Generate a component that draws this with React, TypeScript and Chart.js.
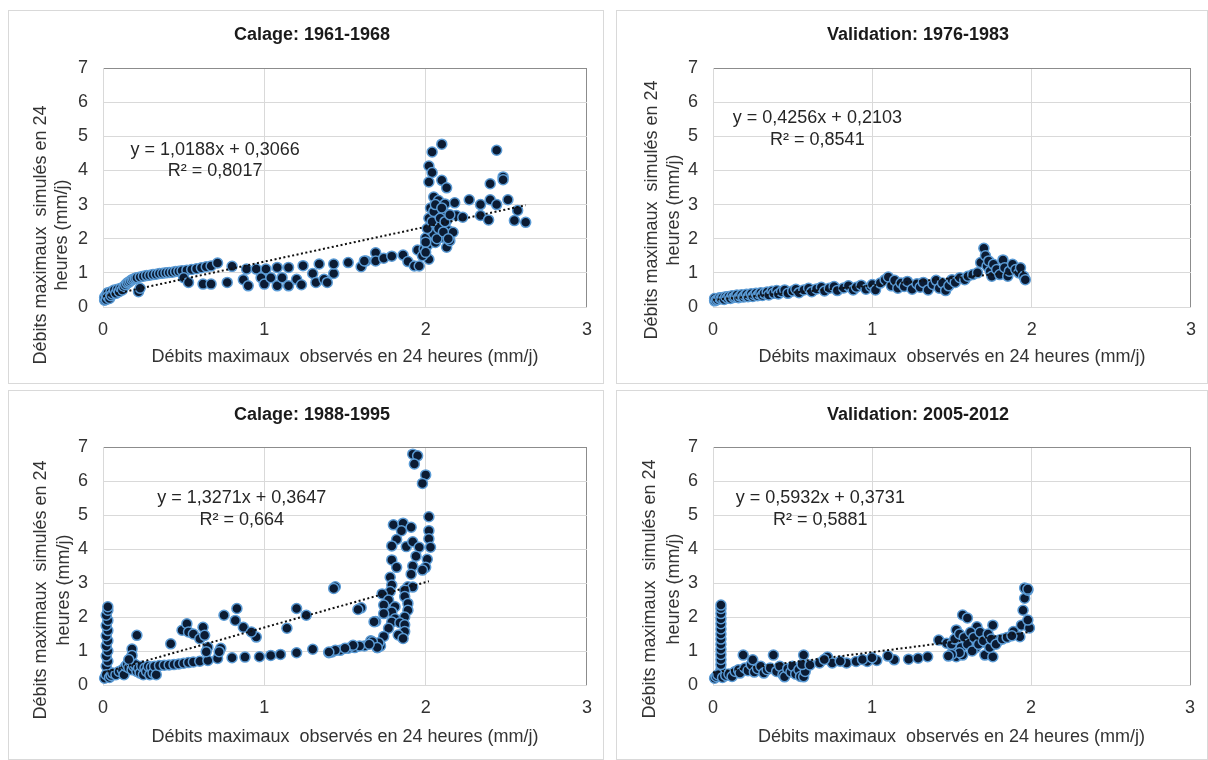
import React, { useEffect, useRef } from 'react';
import { Chart, registerables } from 'chart.js';

Chart.register(...registerables);

const FONT = '"Liberation Sans", Arial, sans-serif';

// ---------- Data: Calage 1961-1968 ----------
const cal6168X = [
  0.01, 0.01, 0.02, 0.02, 0.03, 0.03, 0.04, 0.05, 0.05, 0.06, 0.07, 0.08, 0.09, 0.1, 0.11, 0.12, 0.13, 0.14, 0.15, 0.16,
  0.17, 0.18, 0.19, 0.2, 0.21, 0.22, 0.23, 0.23, 0.25, 0.27, 0.29, 0.31, 0.33, 0.35, 0.37, 0.39, 0.41, 0.43, 0.45, 0.47,
  0.49, 0.52, 0.55, 0.58, 0.61, 0.64, 0.67, 0.71,
  0.8, 0.5, 0.53, 0.62, 0.67, 0.77, 0.87, 0.9, 0.89, 0.95, 0.98, 1.0, 1.01, 1.04, 1.08, 1.08, 1.11, 1.15, 1.15, 1.2,
  1.24, 1.23, 1.3, 1.32, 1.34, 1.37, 1.39, 1.43, 1.43, 1.52, 1.6, 1.63, 1.69, 1.69, 1.74, 1.79, 1.86, 1.89, 1.93, 1.96,
  1.95, 1.99, 2.01, 2.0, 2.02, 2.03, 2.04, 2.02, 2.04, 2.02, 2.1, 2.1, 2.13, 2.05, 2.08, 2.12, 2.06, 2.11, 2.07, 2.13,
  2.05, 2.1, 2.14, 2.06, 2.13, 2.15, 2.17, 2.18, 2.19, 2.23, 2.27, 2.34, 2.34, 2.4, 2.4, 2.39, 2.44, 2.44, 2.48, 2.48,
  2.51, 2.55, 2.57, 2.62,
  2.0, 2.01, 2.02, 2.03, 2.04, 2.05, 2.06, 2.07, 2.08, 2.09, 2.1, 2.11, 2.12, 2.14, 2.15, 1.98, 2.0, 1.62,
];
const cal6168Y = [
  0.2, 0.28, 0.35, 0.22, 0.42, 0.3, 0.25, 0.45, 0.33, 0.38, 0.5, 0.4, 0.52, 0.45, 0.55, 0.5, 0.6, 0.65, 0.7, 0.73,
  0.76, 0.8, 0.82, 0.84, 0.86, 0.45, 0.55, 0.88, 0.9, 0.92, 0.93, 0.95, 0.96, 0.98, 0.99, 1.0, 1.01, 1.02, 1.04, 1.05,
  1.06, 1.08, 1.1, 1.12, 1.15, 1.18, 1.2, 1.29,
  1.19, 0.86, 0.72, 0.67, 0.67, 0.72, 0.8, 0.62, 1.11, 1.11, 0.86, 0.67, 1.11, 0.86, 1.16, 0.62, 0.86, 1.16, 0.62, 0.81,
  1.21, 0.65, 0.98, 0.72, 1.26, 0.81, 0.72, 0.98, 1.26, 1.3, 1.18, 1.35, 1.59, 1.35, 1.43, 1.49, 1.52, 1.33, 1.2, 1.2,
  1.67, 1.7, 1.8, 2.02, 1.4, 2.24, 4.54, 4.13, 3.94, 3.66, 4.77, 3.71, 3.49, 3.22, 3.12, 3.02, 2.73, 2.78, 2.48, 2.53,
  2.14, 2.04, 2.24, 1.89, 1.75, 1.94, 2.19, 3.05, 2.68, 2.63, 3.14, 3.0, 2.68, 3.61, 3.14, 2.55, 3.0, 4.59, 3.81, 3.73,
  3.14, 2.53, 2.83, 2.48,
  1.9, 2.3, 2.6, 2.9, 2.5, 2.8, 3.0, 2.0, 2.3, 2.6, 2.9, 2.2, 2.5, 2.0, 2.7, 1.5, 1.6, 1.35,
];
const trend6168X = [0.0, 2.62];
const trend6168Y = [0.31, 2.98];

// ---------- Data: Validation 1976-1983 ----------
const val7683X = [
  0.01, 0.01, 0.02, 0.03, 0.04, 0.05, 0.06, 0.07, 0.08, 0.09, 0.1, 0.11, 0.12, 0.13, 0.14, 0.15, 0.16, 0.17, 0.18, 0.19,
  0.2, 0.21, 0.22, 0.23, 0.24, 0.25, 0.26, 0.27, 0.28, 0.29, 0.3, 0.31, 0.32, 0.34, 0.35, 0.37, 0.38, 0.4, 0.41, 0.43,
  0.45, 0.47, 0.5, 0.52, 0.54, 0.57, 0.6, 0.62, 0.65, 0.68, 0.7, 0.73, 0.76, 0.78, 0.82, 0.85, 0.88, 0.9, 0.93, 0.96,
  0.99, 1.0, 1.02, 1.05, 1.08, 1.1, 1.12, 1.14, 1.16, 1.18, 1.2, 1.22, 1.25, 1.28, 1.3, 1.32, 1.35, 1.38, 1.4, 1.42,
  1.44, 1.46, 1.48, 1.5, 1.52, 1.55, 1.58, 1.6, 1.63, 1.66, 1.68, 1.7, 1.71, 1.72, 1.73, 1.74, 1.75, 1.76, 1.78, 1.8,
  1.82, 1.83, 1.85, 1.86, 1.88, 1.9, 1.92, 1.93, 1.95, 1.96,
];
const val7683Y = [
  0.18, 0.25, 0.2, 0.22, 0.27, 0.24, 0.28, 0.22, 0.3, 0.26, 0.31, 0.25, 0.33, 0.28, 0.3, 0.35, 0.27, 0.32, 0.36, 0.29,
  0.34, 0.37, 0.3, 0.35, 0.39, 0.31, 0.36, 0.4, 0.33, 0.38, 0.42, 0.34, 0.4, 0.44, 0.35, 0.46, 0.4, 0.48, 0.38, 0.45,
  0.5, 0.4, 0.47, 0.52, 0.42, 0.5, 0.55, 0.45, 0.53, 0.58, 0.47, 0.55, 0.6, 0.48, 0.56, 0.62, 0.5, 0.58, 0.64, 0.52,
  0.6, 0.66, 0.5, 0.7, 0.8, 0.88, 0.62, 0.78, 0.55, 0.7, 0.6, 0.75, 0.52, 0.68, 0.58, 0.72, 0.5, 0.66, 0.78, 0.55,
  0.7, 0.48, 0.62, 0.8, 0.72, 0.86, 0.8, 0.9, 0.95, 1.0, 1.3, 1.72, 1.5, 1.2, 1.35, 1.05, 0.9, 1.25, 1.1, 0.95,
  1.38, 1.15, 0.9, 1.05, 1.25, 1.1, 1.0, 1.15, 0.9, 0.8,
];
const trend7683X = [0.0, 1.96];
const trend7683Y = [0.21, 1.04];

// ---------- Data: Calage 1988-1995 ----------
const cal8895X = [
  0.02, 0.03, 0.02, 0.03, 0.02, 0.03, 0.02, 0.03, 0.02, 0.03, 0.02, 0.03, 0.02, 0.03, 0.03,
  0.01, 0.02, 0.04, 0.05, 0.06, 0.08, 0.1, 0.12, 0.13, 0.14, 0.15, 0.16, 0.17, 0.18, 0.19, 0.2, 0.21, 0.22, 0.23, 0.24,
  0.25, 0.26, 0.27, 0.28, 0.29, 0.3, 0.31, 0.32, 0.33, 0.18, 0.18, 0.21, 0.16,
  0.35, 0.38, 0.41, 0.44, 0.47, 0.5, 0.53, 0.56, 0.6, 0.65, 0.71, 0.8, 0.88, 0.97, 1.04, 1.1, 1.2, 1.3, 1.4, 1.42,
  1.47, 1.52, 1.56, 1.62, 1.66, 1.7, 1.72,
  0.42, 0.49, 0.52, 0.53, 0.56, 0.6, 0.62, 0.63, 0.65, 0.64, 0.73, 0.72, 0.75, 0.83, 0.82, 0.87, 0.95, 0.92, 1.14, 1.2,
  1.26, 1.44, 1.6, 1.69,
  1.92, 1.95, 1.93, 2.0, 1.98, 2.02, 2.02, 2.02, 2.03, 2.01, 2.0, 1.98, 1.8, 1.86, 1.91, 1.85, 1.82, 1.79, 1.88, 1.92,
  1.96, 1.94, 1.79, 1.82, 1.92, 1.91, 1.78, 1.79, 1.89, 1.92, 1.87, 1.78, 1.73, 1.77, 1.87, 1.89, 1.74, 1.81, 1.89, 1.79,
  1.74, 1.87, 1.81, 1.79, 1.84, 1.87, 1.87, 1.83, 1.86, 1.77, 1.74, 1.71, 1.68, 1.67, 1.58, 1.43, 1.7, 1.65, 1.59, 1.55,
  1.5, 1.44, 1.4,
];
const cal8895Y = [
  0.25, 0.4, 0.55, 0.7, 0.85, 1.0, 1.15, 1.3, 1.45, 1.6, 1.75, 1.9, 2.05, 2.2, 2.3,
  0.2, 0.3, 0.22, 0.28, 0.35, 0.3, 0.4, 0.45, 0.3, 0.55, 0.6, 0.5, 0.65, 0.45, 0.55, 0.6, 0.4, 0.5, 0.35, 0.55,
  0.3, 0.5, 0.4, 0.55, 0.3, 0.52, 0.35, 0.55, 0.3, 1.06, 0.87, 1.46, 0.75,
  0.57, 0.58, 0.59, 0.6, 0.62, 0.64, 0.66, 0.68, 0.7, 0.72, 0.78, 0.8, 0.82, 0.83, 0.87, 0.9, 0.95, 1.05, 0.95, 0.97,
  1.02, 1.08, 1.1, 1.15, 1.3, 1.1, 1.15,
  1.21, 1.61, 1.8, 1.56, 1.5, 1.36, 1.7, 1.46, 1.11, 0.98, 1.08, 0.98, 2.05, 2.25, 1.9, 1.7, 1.41, 1.56, 1.67, 2.25,
  2.05, 2.89, 2.27, 1.87,
  6.79, 6.74, 6.5, 6.18, 5.93, 4.95, 4.54, 4.3, 4.05, 3.7, 3.46, 3.38, 4.71, 4.76, 4.64, 4.54, 4.28, 4.09, 4.07, 4.21,
  4.05, 3.79, 3.68, 3.46, 3.5, 3.26, 3.17, 2.94, 2.89, 2.88, 2.79, 2.75, 2.68, 2.5, 2.6, 2.4, 2.35, 2.3, 2.2, 2.15,
  2.1, 2.0, 1.95, 1.85, 1.83, 1.77, 1.57, 1.47, 1.37, 1.67, 1.43, 1.24, 1.86, 1.27, 2.22, 2.84, 1.1, 1.2, 1.15, 1.17,
  1.08, 1.02, 0.97,
];
const trend8895X = [0.0, 2.02];
const trend8895Y = [0.36, 3.05];

// ---------- Data: Validation 2005-2012 ----------
const val0512X = [
  0.05, 0.05, 0.05, 0.05, 0.05, 0.05, 0.05, 0.05, 0.05, 0.05, 0.05, 0.05, 0.05, 0.05, 0.05,
  0.01, 0.02, 0.03, 0.06, 0.08, 0.1, 0.12, 0.14, 0.16, 0.17, 0.19, 0.2, 0.22, 0.24, 0.25, 0.26, 0.28, 0.3, 0.32, 0.34,
  0.36, 0.38, 0.4, 0.42, 0.44, 0.45, 0.47, 0.49, 0.5, 0.52, 0.54, 0.55, 0.57, 0.57, 0.58, 0.56,
  0.61, 0.67, 0.72, 0.75, 0.84, 0.9, 0.97, 1.03, 1.14, 1.23, 1.29, 1.35, 1.42, 1.47, 0.7, 0.8, 0.94, 1.0, 1.1,
  1.57, 1.6, 1.53, 1.51, 1.53, 1.57, 1.62, 1.66, 1.69, 1.72, 1.76, 1.71, 1.76, 1.65, 1.8, 1.89, 1.93, 1.94, 1.95, 1.96,
  1.98, 1.99, 1.98, 1.96, 1.98, 1.5, 1.52, 1.55, 1.56, 1.58, 1.6, 1.62, 1.63, 1.64, 1.67, 1.68, 1.7, 1.73, 1.74, 1.75,
  1.78, 1.82, 1.85, 1.88, 1.55, 1.5, 1.48,
];
const val0512Y = [
  0.3, 0.45, 0.6, 0.75, 0.9, 1.05, 1.2, 1.35, 1.5, 1.65, 1.8, 1.95, 2.1, 2.25, 2.35,
  0.2, 0.25, 0.3, 0.22, 0.28, 0.32, 0.25, 0.4, 0.45, 0.35, 0.88, 0.5, 0.42, 0.6, 0.74, 0.38, 0.48, 0.55, 0.35, 0.45,
  0.5, 0.88, 0.4, 0.55, 0.3, 0.24, 0.48, 0.38, 0.55, 0.32, 0.45, 0.25, 0.24, 0.88, 0.4, 0.6,
  0.59, 0.65, 0.82, 0.65, 0.65, 0.69, 0.69, 0.72, 0.74, 0.76, 0.79, 0.83, 1.32, 1.23, 0.75, 0.7, 0.75, 0.8, 0.85,
  2.06, 1.97, 1.62, 1.03, 0.83, 0.88, 1.32, 1.71, 1.47, 1.23, 1.76, 0.88, 0.83, 1.09, 1.32, 1.57, 1.42, 1.76, 2.2, 2.55,
  2.79, 1.68, 1.91, 2.85, 2.82, 1.2, 1.35, 1.5, 1.1, 1.4, 1.2, 1.55, 1.0, 1.4, 1.2, 1.55, 1.3, 1.5, 1.1, 1.35,
  1.2, 1.35, 1.4, 1.45, 0.95, 0.9, 0.85,
];
const trend0512X = [0.0, 1.98];
const trend0512Y = [0.37, 1.55];

// ---------- Text ----------
const panelTitles = ['Calage: 1961-1968', 'Validation: 1976-1983', 'Calage: 1988-1995', 'Validation: 2005-2012'];
const equationLabels = ['y = 1,0188x + 0,3066', 'y = 0,4256x + 0,2103', 'y = 1,3271x + 0,3647', 'y = 0,5932x + 0,3731'];
const r2Labels = ['R² = 0,8017', 'R² = 0,8541', 'R² = 0,664', 'R² = 0,5881'];
const xAxisTitle = 'Débits maximaux  observés en 24 heures (mm/j)';
const yAxisTitle = ['Débits maximaux  simulés en 24', 'heures (mm/j)'];
const xTickMin = 0;
const xTickMax = 3;
const yTickMin = 0;
const yTickMax = 7;

const seriesX = [cal6168X, val7683X, cal8895X, val0512X];
const seriesY = [cal6168Y, val7683Y, cal8895Y, val0512Y];
const trendX = [trend6168X, trend7683X, trend8895X, trend0512X];
const trendY = [trend6168Y, trend7683Y, trend8895Y, trend0512Y];

// ---------- Layout (styling only) ----------
const panels = [
  { left: 8, top: 10, w: 596, h: 374, padTop: 58, padRight: 9, yW: 95, xH: 77, yT: [33, 54], yTY: 225, titleY: 25, xTitlePad: 16, eq: [0.695, 4.6, 3.98] },
  { left: 616, top: 10, w: 592, h: 374, padTop: 58, padRight: 16, yW: 97, xH: 77, yT: [36, 58], yTY: 200, titleY: 25, xTitlePad: 16, eq: [0.655, 5.54, 4.89] },
  { left: 8, top: 390, w: 596, h: 370, padTop: 57, padRight: 9, yW: 95, xH: 75, yT: [33, 56], yTY: 200, titleY: 25, xTitlePad: 12, eq: [0.86, 5.5, 4.85] },
  { left: 616, top: 390, w: 592, h: 370, padTop: 57, padRight: 18, yW: 97, xH: 75, yT: [34, 58], yTY: 199, titleY: 25, xTitlePad: 12, eq: [0.675, 5.5, 4.85] },
];

function Panel({ idx }: { idx: number }) {
  const ref = useRef<HTMLCanvasElement>(null);
  const p = panels[idx];

  useEffect(() => {
    const canvas = ref.current;
    if (!canvas) return;
    const xs = seriesX[idx];
    const ys = seriesY[idx];
    const points = xs.map((x, i) => ({ x, y: ys[i] }));
    const trend = trendX[idx].map((x, i) => ({ x, y: trendY[idx][i] }));

    const textPlugin = {
      id: 'panelText',
      afterDraw(chart: any) {
        const ctx = chart.ctx as CanvasRenderingContext2D;
        const xs = chart.scales.x;
        const ys = chart.scales.y;
        ctx.save();
        ctx.fillStyle = '#1a1a1a';
        ctx.font = `bold 18px ${FONT}`;
        ctx.textAlign = 'center';
        ctx.textBaseline = 'middle';
        ctx.fillText(panelTitles[idx], chart.width / 2 + 6, p.titleY);
        ctx.font = `18px ${FONT}`;
        ctx.fillStyle = '#262626';
        const ex = xs.getPixelForValue(p.eq[0]);
        ctx.fillText(equationLabels[idx], ex, ys.getPixelForValue(p.eq[1]));
        ctx.fillText(r2Labels[idx], ex, ys.getPixelForValue(p.eq[2]));
        ctx.fillStyle = '#333333';
        yAxisTitle.forEach((line, i) => {
          ctx.save();
          ctx.translate(p.yT[i], p.yTY);
          ctx.rotate(-Math.PI / 2);
          ctx.fillText(line, 0, 0);
          ctx.restore();
        });
        ctx.restore();
      },
    };

    const chart = new Chart(canvas, {
      type: 'scatter',
      data: {
        datasets: [
          {
            type: 'line',
            data: trend,
            borderColor: '#111111',
            borderWidth: 2,
            borderDash: [2, 2.5],
            pointRadius: 0,
            fill: false,
            order: 0,
            clip: false,
          } as any,
          {
            data: points,
            backgroundColor: '#0b1b33',
            borderColor: '#5b9bd5',
            borderWidth: 1.5,
            pointRadius: 5,
            order: 1,
            clip: false,
          } as any,
        ],
      },
      options: {
        responsive: false,
        animation: false,
        devicePixelRatio: 1,
        layout: { padding: { left: 0, right: p.padRight, top: p.padTop, bottom: 0 } },
        plugins: { legend: { display: false }, tooltip: { enabled: false }, title: { display: false } },
        scales: {
          x: {
            type: 'linear',
            min: xTickMin,
            max: xTickMax,
            afterFit: (s: any) => { s.height = p.xH; },
            ticks: { stepSize: 1, color: '#333333', font: { family: FONT, size: 18 }, padding: 12, maxRotation: 0 },
            grid: {
              drawTicks: false,
              color: (c: any) => (c.tick && c.tick.value === xTickMax ? '#8c8c8c' : '#d9d9d9'),
              lineWidth: 1,
            },
            border: { display: true, color: '#d9d9d9' },
            title: {
              display: true,
              text: xAxisTitle,
              color: '#333333',
              font: { family: FONT, size: 18 },
              padding: { top: 0, bottom: p.xTitlePad },
            },
          },
          y: {
            type: 'linear',
            min: yTickMin,
            max: yTickMax,
            afterFit: (s: any) => { s.width = p.yW; },
            ticks: { stepSize: 1, color: '#333333', font: { family: FONT, size: 18 }, padding: 15 },
            grid: {
              drawTicks: false,
              color: (c: any) => (c.tick && c.tick.value === yTickMax ? '#8c8c8c' : '#d9d9d9'),
              lineWidth: 1,
            },
            border: { display: true, color: '#d9d9d9' },
          },
        },
      } as any,
      plugins: [textPlugin],
    });
    return () => chart.destroy();
  }, [idx]);

  return (
    <div
      style={{
        position: 'absolute',
        left: p.left,
        top: p.top,
        width: p.w,
        height: p.h,
        outline: '1px solid #d9d9d9',
        outlineOffset: -1,
        background: '#ffffff',
      }}
    >
      <canvas ref={ref} width={p.w} height={p.h} style={{ display: 'block', width: p.w, height: p.h }} />
    </div>
  );
}

export default function App() {
  return (
    <div style={{ position: 'absolute', left: 0, top: 0, width: 1208, height: 760, background: '#ffffff', overflow: 'hidden' }}>
      {[0, 1, 2, 3].map((i) => (
        <Panel key={i} idx={i} />
      ))}
    </div>
  );
}
